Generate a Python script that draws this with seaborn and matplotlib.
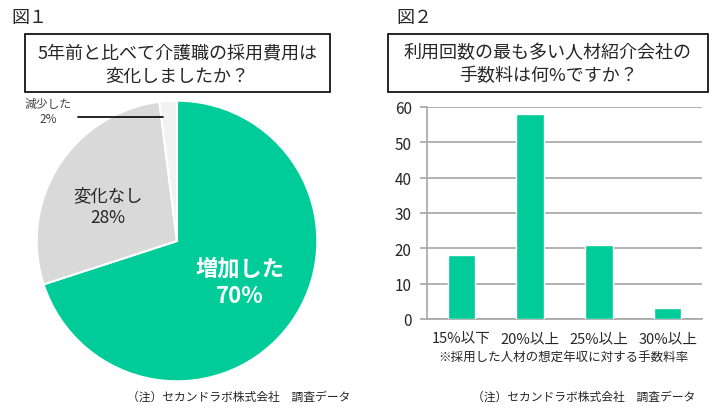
import matplotlib
matplotlib.use("Agg")
import matplotlib.pyplot as plt
import seaborn as sns
import pandas as pd
from matplotlib.patches import Rectangle

# figure 1: pie
pie_labels = ["増加した", "変化なし", "減少した"]
pie_values = [70, 28, 2]
pie_colors = ["#00CC99", "#D9D9D9", "#F2F2F2"]

# figure 2: bars
bar_labels = ["15%以下", "20%以上", "25%以上", "30%以上"]
bar_values = [18, 58, 21, 3]
bar_ticks = [0, 10, 20, 30, 40, 50, 60]

title1 = "5年前と比べて介護職の採用費用は\n変化しましたか？"
title2 = "利用回数の最も多い人材紹介会社の\n手数料は何%ですか？"
note2 = "※採用した人材の想定年収に対する手数料率"
source = "（注）セカンドラボ株式会社　調査データ"

sns.set_theme(style="white")
plt.rcParams['font.family'] = ['Noto Sans CJK JP', 'DejaVu Sans']

W, H = 720, 414
fig = plt.figure(figsize=(W / 100, H / 100), dpi=100)
fig.patch.set_facecolor("white")

def fx(px):
    return px / W

def fy(py):
    return 1 - py / H

txt = "#262626"

# headers
fig.text(fx(11), fy(18), "図１", fontsize=13, color=txt, va="center", ha="left")
fig.text(fx(396), fy(18), "図２", fontsize=13, color=txt, va="center", ha="left")

# title boxes
for x0, x1, t in [(25, 330, title1), (388, 708, title2)]:
    fig.patches.append(Rectangle((fx(x0), fy(93)), fx(x1) - fx(x0), fy(35) - fy(93),
                                 transform=fig.transFigure, fill=False,
                                 edgecolor="black", linewidth=1.2))
    fig.text(fx((x0 + x1) / 2), fy(65), t, fontsize=13, color=txt,
             ha="center", va="center", linespacing=1.35)

# pie
cx, cy, r = 177, 242, 141
ax1 = fig.add_axes([fx(cx - r), fy(cy + r), fx(2 * r), (2 * r) / H])
ax1.pie(pie_values, colors=pie_colors, startangle=90, counterclock=False,
        radius=1, wedgeprops=dict(edgecolor="white", linewidth=1.5))
ax1.set_xlim(-1.005, 1.005)
ax1.set_ylim(-1.005, 1.005)
ax1.set_aspect("equal")
ax1.axis("off")
ax1.text(0.45, -0.29, f"{pie_labels[0]}\n{pie_values[0]}%", fontsize=16,
         fontweight="bold", color="white", ha="center", va="center", linespacing=1.25)
ax1.text(-0.49, 0.25, f"{pie_labels[1]}\n{pie_values[1]}%", fontsize=12.5,
         color=txt, ha="center", va="center", linespacing=1.3)

fig.text(fx(48), fy(112), f"{pie_labels[2]}\n{pie_values[2]}%", fontsize=8.5,
         color="#404040", ha="center", va="center", linespacing=1.2)
fig.lines.append(plt.Line2D([fx(78), fx(163)], [fy(118), fy(118)],
                            transform=fig.transFigure, color="black", linewidth=1.2))

fig.text(fx(350), fy(397), source, fontsize=8.5, color=txt, ha="right", va="center")

# bars
ax2 = fig.add_axes([fx(427), fy(320), fx(702) - fx(427), (320 - 108) / H])
df = pd.DataFrame({"cat": bar_labels, "val": bar_values})
sns.barplot(data=df, x="cat", y="val", color="#00CC99", width=0.4,
            saturation=1, ax=ax2, zorder=3)
ax2.set_xlim(-0.5, 3.5)
ax2.set_ylim(0, 60)
ax2.set_yticks(bar_ticks)
ax2.yaxis.grid(True, color="#A6A6A6", linewidth=1.2, zorder=0)
ax2.set_axisbelow(True)
ax2.set_xlabel("")
ax2.set_ylabel("")
for s in ["top", "right"]:
    ax2.spines[s].set_visible(False)
for s in ["left", "bottom"]:
    ax2.spines[s].set_color("#A6A6A6")
    ax2.spines[s].set_linewidth(1.2)
ax2.tick_params(axis="y", labelsize=11, color="#A6A6A6", length=5, width=1.2,
                direction="out", left=True, pad=6)
ax2.tick_params(axis="x", labelsize=10.5, length=0, pad=9)
for lab in ax2.get_yticklabels() + ax2.get_xticklabels():
    lab.set_color(txt)

fig.text(fx(563), fy(358), note2, fontsize=9, color=txt, ha="center", va="center")
fig.text(fx(695), fy(397), source, fontsize=8.5, color=txt, ha="right", va="center")

fig.savefig("out.png", dpi=100, facecolor="white")
